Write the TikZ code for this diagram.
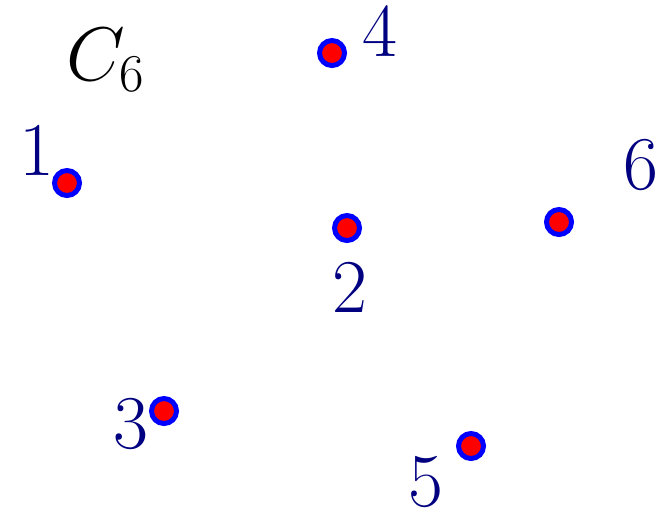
\documentclass[tikz,border=0pt]{standalone}
\usepackage{fix-cm}
\definecolor{navylbl}{RGB}{0,0,128}
\begin{document}
\begin{tikzpicture}[x=0.5pt,y=-0.5pt,
  vert/.style={circle,fill=red,draw=blue,line width=2.5pt,minimum size=12.5pt,inner sep=0pt},
  lbl/.style={text=navylbl,inner sep=0pt,font=\fontsize{38}{45}\selectfont},
  title/.style={text=black,inner sep=0pt,font=\fontsize{38}{45}\selectfont}]
\useasboundingbox (0,0) rectangle (668,516);
\node[vert] (p1) at (67,183) {};
\node[vert] (p2) at (347,228) {};
\node[vert] (p3) at (164,411) {};
\node[vert] (p4) at (332,53) {};
\node[vert] (p5) at (471,446) {};
\node[vert] (p6) at (559,222) {};
\node[lbl] (l1) at (37,151) {$1$};
\node[lbl] (l2) at (350,288) {$2$};
\node[lbl] (l3) at (131,424) {$3$};
\node[lbl] (l4) at (380,32) {$4$};
\node[lbl] (l5) at (426,482) {$5$};
\node[lbl] (l6) at (641,165) {$6$};
\node[title,anchor=base west] (c6) at (66,80) {$C_6$};
\end{tikzpicture}
\end{document}
